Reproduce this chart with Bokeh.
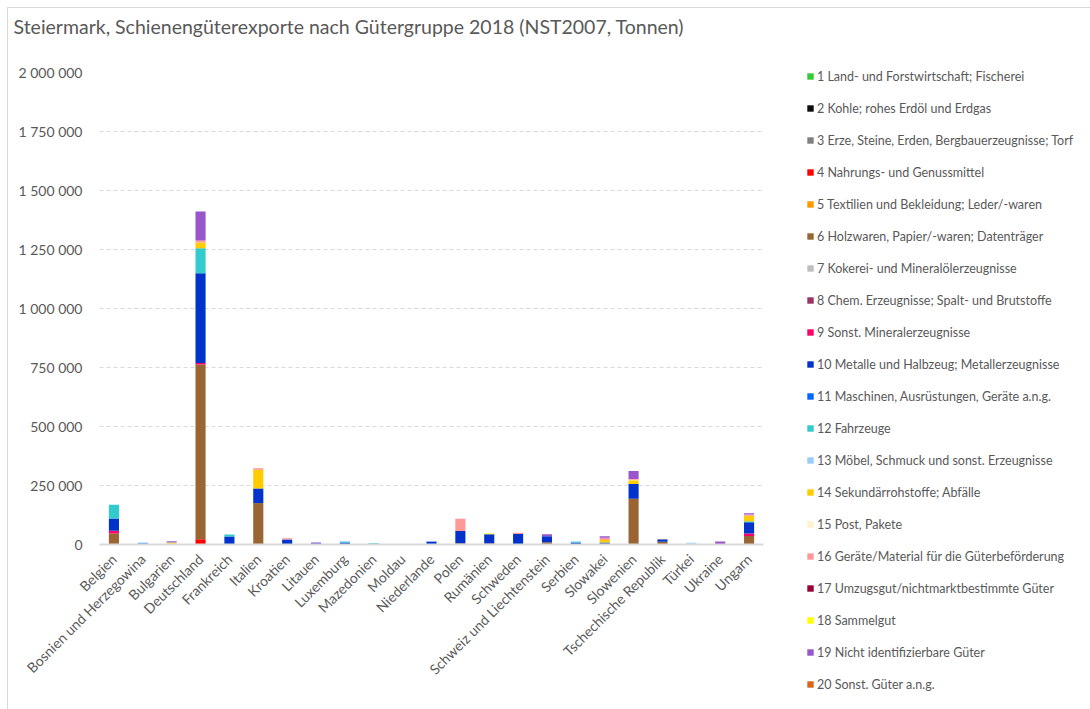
import math
from bokeh.plotting import figure
from bokeh.models import ColumnDataSource, FactorRange, Range1d, FixedTicker, Legend, LegendItem, Title
from bokeh.embed import file_html
from bokeh.resources import INLINE

countries = ["Belgien", "Bosnien und Herzegowina", "Bulgarien", "Deutschland", "Frankreich",
             "Italien", "Kroatien", "Litauen", "Luxemburg", "Mazedonien", "Moldau",
             "Niederlande", "Polen", "Rumänien", "Schweden", "Schweiz und Liechtenstein",
             "Serbien", "Slowakei", "Slowenien", "Tschechische Republik", "Türkei",
             "Ukraine", "Ungarn"]

groups = ["1 Land- und Forstwirtschaft; Fischerei",
          "2 Kohle; rohes Erdöl und Erdgas",
          "3 Erze, Steine, Erden, Bergbauerzeugnisse; Torf",
          "4 Nahrungs- und Genussmittel",
          "5 Textilien und Bekleidung; Leder/-waren",
          "6 Holzwaren, Papier/-waren; Datenträger",
          "7 Kokerei- und Mineralölerzeugnisse",
          "8 Chem. Erzeugnisse; Spalt- und Brutstoffe",
          "9 Sonst. Mineralerzeugnisse",
          "10 Metalle und Halbzeug; Metallerzeugnisse",
          "11 Maschinen, Ausrüstungen, Geräte a.n.g.",
          "12 Fahrzeuge",
          "13 Möbel, Schmuck und sonst. Erzeugnisse",
          "14 Sekundärrohstoffe; Abfälle",
          "15 Post, Pakete",
          "16 Geräte/Material für die Güterbeförderung",
          "17 Umzugsgut/nichtmarktbestimmte Güter",
          "18 Sammelgut",
          "19 Nicht identifizierbare Güter",
          "20 Sonst. Güter a.n.g."]

colors = ["#33cc33", "#0d0d0d", "#808080", "#ff0000", "#ff9900", "#996633", "#bfbfbf",
          "#993366", "#ff0066", "#0033cc", "#0066ff", "#33cccc", "#99ccff", "#ffcc00",
          "#fff2cc", "#ff9999", "#990033", "#ffff00", "#9955cc", "#d9661a"]

# tonnes per goods group, one value per country (order as in `countries`)
g1  = [0, 0, 0, 0, 0, 1500, 0, 0, 0, 0, 0, 0, 0, 2000, 0, 0, 0, 0, 0, 0, 0, 0, 1000]
g2  = [0] * 23
g3  = [0] * 23
g4  = [0, 0, 0, 22000, 0, 0, 0, 0, 0, 0, 0, 0, 0, 0, 0, 0, 0, 0, 0, 0, 0, 0, 0]
g5  = [0] * 23
g6  = [47000, 0, 0, 741000, 0, 174000, 0, 0, 0, 0, 0, 0, 5000, 0, 0, 10000, 0, 3000, 194000, 12000, 0, 0, 35000]
g7  = [0] * 23
g8  = [0, 0, 2000, 0, 0, 0, 0, 0, 0, 0, 0, 0, 0, 3000, 0, 0, 0, 0, 0, 0, 0, 2000, 0]
g9  = [11000, 0, 0, 6000, 0, 0, 0, 0, 0, 0, 0, 0, 0, 0, 0, 0, 0, 0, 0, 0, 0, 0, 11000]
g10 = [52000, 2000, 0, 380000, 34000, 62000, 21000, 5000, 7000, 0, 0, 13000, 52000, 38000, 45000, 25000, 7000, 6000, 62000, 10000, 0, 0, 47000]
g11 = [0, 3000, 0, 0, 0, 0, 0, 0, 2000, 3000, 0, 0, 0, 0, 0, 0, 2000, 0, 0, 0, 0, 0, 0]
g12 = [58000, 0, 0, 106000, 8000, 0, 0, 0, 4000, 3000, 0, 0, 0, 0, 0, 0, 3000, 0, 0, 0, 3000, 0, 4000]
g13 = [0, 3000, 0, 0, 0, 0, 0, 0, 2000, 0, 0, 2000, 0, 0, 0, 0, 2000, 0, 0, 0, 4000, 0, 0]
g14 = [0, 0, 3000, 25000, 0, 79000, 0, 0, 0, 0, 0, 0, 0, 0, 0, 0, 0, 10000, 16000, 0, 0, 0, 24000]
g15 = [0, 0, 0, 0, 0, 0, 0, 0, 0, 0, 0, 0, 0, 0, 0, 0, 0, 0, 2000, 5000, 0, 0, 0]
g16 = [0, 0, 0, 8000, 0, 7000, 5000, 0, 0, 0, 0, 0, 52000, 0, 5000, 0, 0, 10000, 4000, 0, 0, 0, 5000]
g17 = [0] * 23
g18 = [0, 0, 4000, 0, 0, 0, 0, 0, 0, 0, 0, 0, 0, 4000, 0, 0, 0, 0, 0, 0, 0, 0, 0]
g19 = [0, 0, 5000, 123000, 0, 0, 0, 3000, 0, 0, 0, 0, 0, 0, 0, 8000, 0, 6000, 33000, 0, 0, 11000, 5000]
g20 = [0] * 23

series = [g1, g2, g3, g4, g5, g6, g7, g8, g9, g10, g11, g12, g13, g14, g15, g16, g17, g18, g19, g20]

y_ticks = [0, 250000, 500000, 750000, 1000000, 1250000, 1500000, 1750000, 2000000]
y_tick_labels = ["0", "250 000", "500 000", "750 000", "1 000 000", "1 250 000",
                 "1 500 000", "1 750 000", "2 000 000"]

title_text = "Steiermark, Schienengüterexporte nach Gütergruppe 2018 (NST2007, Tonnen)"

data = {"country": countries}
keys = []
for i, s in enumerate(series):
    k = "g%d" % (i + 1)
    data[k] = s
    keys.append(k)
source = ColumnDataSource(data)

FONT = "Lato"
TXT = "#595959"

p = figure(x_range=FactorRange(*countries, range_padding=0),
           y_range=Range1d(0, 2000000),
           frame_width=664, frame_height=472,
           min_border_left=91, min_border_top=64, min_border_right=0, min_border_bottom=166,
           output_backend="svg", toolbar_location=None, tools="",
           margin=(7, 0, 0, 7),
           styles={"border-top": "1px solid #d9d9d9", "border-left": "1px solid #d9d9d9"})

renderers = p.vbar_stack(keys, x="country", width=0.35, source=source, color=colors,
                         line_color=None)

# spacer panel between frame and title, then the title itself
spacer = Title(text=" ", text_font_size="10px", standoff=16)
p.add_layout(spacer, "above")
title = Title(text=title_text, text_font=FONT, text_font_size="19.5px",
              text_font_style="normal", text_color=TXT, offset=-86,
              vertical_align="top", standoff=8)
p.add_layout(title, "above")

legend = Legend(items=[LegendItem(label=g, renderers=[r]) for g, r in zip(groups, renderers)],
                location=(43, -150))
legend.padding = 0
legend.margin = 0
legend.border_line_color = None
legend.background_fill_alpha = 0
legend.glyph_width = 8
legend.glyph_height = 8
legend.label_height = 20
legend.spacing = 12
legend.label_standoff = 3
legend.label_text_font = FONT
legend.label_text_font_size = "12.5px"
legend.label_text_color = TXT
p.add_layout(legend, "right")

p.outline_line_color = None
p.xgrid.grid_line_color = None
p.ygrid.grid_line_color = "#d9d9d9"
p.ygrid.grid_line_dash = "4 3"
p.ygrid.grid_line_width = 1

p.yaxis.ticker = FixedTicker(ticks=y_ticks)
p.yaxis.major_label_overrides = {t: l for t, l in zip(y_ticks, y_tick_labels)}
p.yaxis.axis_line_color = None
p.yaxis.major_tick_line_color = None
p.yaxis.minor_tick_line_color = None
p.yaxis.major_tick_out = 0
p.yaxis.major_label_standoff = 17
p.yaxis.major_label_text_font = FONT
p.yaxis.major_label_text_font_size = "14px"
p.yaxis.major_label_text_color = TXT

p.xaxis.axis_line_color = "#d9d9d9"
p.xaxis.axis_line_width = 2
p.xaxis.major_tick_line_color = None
p.xaxis.major_tick_out = 0
p.xaxis.major_label_standoff = 12
p.xaxis.major_label_orientation = math.pi / 4
p.xaxis.major_label_text_font = FONT
p.xaxis.major_label_text_font_size = "14px"
p.xaxis.major_label_text_color = TXT

open("out.html", "w").write(file_html(p, INLINE))
